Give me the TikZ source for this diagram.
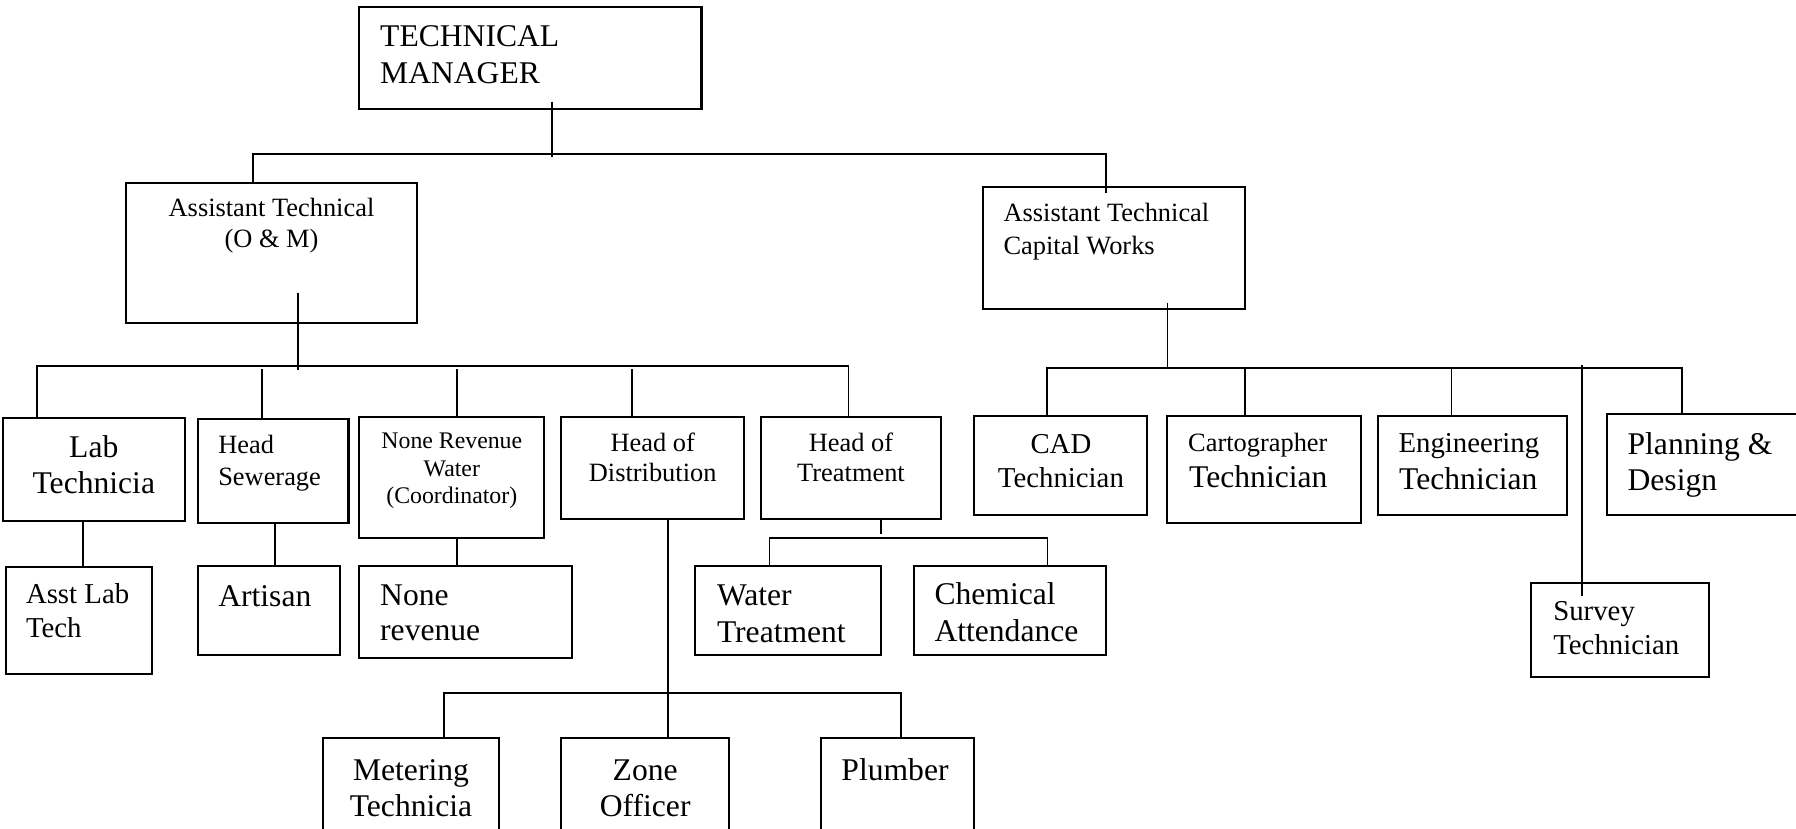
\documentclass[tikz,border=0pt]{standalone}
\usepackage{fontspec}
\setmainfont{Liberation Serif}
\usetikzlibrary{fit}
\tikzset{
  box/.style={draw, line width=2.1pt, rectangle, inner sep=0pt},
  link/.style={line width=1.8pt},
  tbig/.style={font=\fontsize{31.6}{36}\selectfont, inner sep=0pt},
  tmid/.style={font=\fontsize{28.8}{33}\selectfont, inner sep=0pt},
  tmed/.style={font=\fontsize{26.4}{30}\selectfont, inner sep=0pt},
  tsml/.style={font=\fontsize{23.8}{27}\selectfont, inner sep=0pt},
}
\begin{document}
\begin{tikzpicture}[x=1pt,y=-1pt]
\useasboundingbox (0,0) rectangle (1796,828);
\clip (0,0) rectangle (1796,828);

% ---------- boxes ----------
\node[box, fit={(358.8,6.7) (701.5,108.7)}] (tm) {};
\node[box, fit={(126.3,182.7) (416.8,322.7)}] (atom) {};
\node[box, fit={(982.9,187.3) (1245.1,308.7)}] (atcw) {};

\node[box, fit={(2.9,417.7) (184.8,521)}] (lab) {};
\node[box, fit={(198,419.3) (348.5,523)}] (sew) {};
\node[box, fit={(359.4,416.7) (544.2,537.7)}] (nrw) {};
\node[box, fit={(561.4,416.7) (744,519)}] (dist) {};
\node[box, fit={(761.2,416.7) (940.7,519.3)}] (treat) {};
\node[box, fit={(974.3,415.7) (1147.4,514.7)}] (cad) {};
\node[box, fit={(1167.4,415.7) (1360.6,522.7)}] (carto) {};
\node[box, fit={(1377.7,415.7) (1566.9,514.7)}] (eng) {};
\node[box, fit={(1607.4,414.3) (1830,514.7)}] (plan) {};

\node[box, fit={(5.7,567.3) (152.1,674)}] (alab) {};
\node[box, fit={(198,566) (339.8,655.3)}] (art) {};
\node[box, fit={(359.4,566) (571.8,658.3)}] (nrev) {};
\node[box, fit={(695.2,566) (881.2,655.3)}] (wtr) {};
\node[box, fit={(913.7,565.7) (1106.3,655.3)}] (chem) {};
\node[box, fit={(1531.4,582.7) (1709.1,677.3)}] (surv) {};

\node[box, fit={(322.6,738.3) (499.4,850)}] (met) {};
\node[box, fit={(561.4,738.3) (729,850)}] (zone) {};
\node[box, fit={(821.2,738.3) (974.3,850)}] (plumb) {};

% ---------- texts ----------
\node[tbig, anchor=base west] (tm-a) at (380,46.7) {TECHNICAL};
\node[tbig, anchor=base west] (tm-b) at (380,83.3) {MANAGER};

\node[tmed, anchor=base] (atom-a) at (271.5,216.7) {Assistant Technical};
\node[tmed, anchor=base] (atom-b) at (271.5,247.3) {(O \& M)};

\node[tmed, anchor=base west] (atcw-a) at (1003.4,221.7) {Assistant Technical};
\node[tmed, anchor=base west] (atcw-b) at (1003.4,254) {Capital Works};

\node[tbig, anchor=base] (lab-a) at (93.8,457) {Lab};
\node[tbig, anchor=base] (lab-b) at (93.8,493) {Technicia};

\node[tmed, anchor=base west] (sew-a) at (218.1,453) {Head};
\node[tmed, anchor=base west] (sew-b) at (218.1,485.3) {Sewerage};

\node[tsml, anchor=base] (nrw-a) at (451.8,448.3) {None Revenue};
\node[tsml, anchor=base] (nrw-b) at (451.8,476) {Water};
\node[tsml, anchor=base] (nrw-c) at (451.8,503.3) {(Coordinator)};

\node[tmed, anchor=base] (dist-a) at (652.7,451.7) {Head of};
\node[tmed, anchor=base] (dist-b) at (652.7,481.7) {Distribution};

\node[tmed, anchor=base] (treat-a) at (851,451.7) {Head of};
\node[tmed, anchor=base] (treat-b) at (851,481.7) {Treatment};

\node[tmid, anchor=base] (cad-a) at (1060.9,453.3) {CAD};
\node[tmid, anchor=base] (cad-b) at (1060.9,487.3) {Technician};

\node[tmed, anchor=base west] (carto-a) at (1188,451.7) {Cartographer};
\node[tbig, anchor=base west] (carto-b) at (1189,487.3) {Technician};

\node[tmid, anchor=base west] (eng-a) at (1398.3,452.7) {Engineering};
\node[tbig, anchor=base west] (eng-b) at (1399,489.3) {Technician};

\node[tbig, anchor=base west] (plan-a) at (1627.4,454.3) {Planning \&};
\node[tbig, anchor=base west] (plan-b) at (1627.4,490.7) {Design};

\node[tmid, anchor=base west] (alab-a) at (25.8,603.3) {Asst Lab};
\node[tmid, anchor=base west] (alab-b) at (25.8,637.3) {Tech};

\node[tbig, anchor=base west] (art-a) at (218.1,606.7) {Artisan};

\node[tbig, anchor=base west] (nrev-a) at (380,605) {None};
\node[tbig, anchor=base west] (nrev-b) at (380,640.7) {revenue};

\node[tbig, anchor=base west] (wtr-a) at (716.8,605) {Water};
\node[tbig, anchor=base west] (wtr-b) at (716.8,642) {Treatment};

\node[tbig, anchor=base west] (chem-a) at (934.3,604) {Chemical};
\node[tbig, anchor=base west] (chem-b) at (934.3,641.7) {Attendance};

\node[tmid, anchor=base west] (surv-a) at (1553.1,620) {Survey};
\node[tmid, anchor=base west] (surv-b) at (1553.1,654) {Technician};

\node[tbig, anchor=base] (met-a) at (411,780) {Metering};
\node[tbig, anchor=base] (met-b) at (411,816) {Technicia};

\node[tbig, anchor=base] (zone-a) at (645.2,780) {Zone};
\node[tbig, anchor=base] (zone-b) at (645.2,816) {Officer};

\node[tbig, anchor=base] (plumb-a) at (895,780) {Plumber};

% ---------- connectors ----------
% manager to the two assistants
\coordinate (tm-o) at (552.2,101.7);
\coordinate (tm-e) at (552.2,156.7);
\coordinate (b1w) at (253.2,154.3);
\coordinate (b1e) at (1106.3,154.3);
\coordinate (atom-i) at (253.2,184);
\coordinate (atcw-i) at (1106.3,192.7);
\draw[link] (tm-o) -- (tm-e);
\draw[link] (atom-i) -- (b1w) -- (b1e) -- (atcw-i);

% operations & maintenance branch
\coordinate (atom-o) at (298,292.7);
\coordinate (atom-e) at (298,370);
\coordinate (b2w) at (37.3,365.7);
\coordinate (b2e) at (848.5,365.7);
\draw[link] (atom-o) -- (atom-e);
\draw[link] (lab.north -| b2w) -- (b2w) -- (b2e) -- (treat.north -| b2e);
\coordinate (s2) at (262.3,369);
\coordinate (s3) at (457,369);
\coordinate (s4) at (632.2,369);
\draw[link] (s2) -- (sew.north -| s2);
\draw[link] (s3) -- (nrw.north -| s3);
\draw[link] (s4) -- (dist.north -| s4);

% capital works branch
\coordinate (atcw-o) at (1167.4,303.3);
\coordinate (atcw-e) at (1167.4,368);
\coordinate (b3w) at (1046.9,368);
\coordinate (b3e) at (1681.7,368);
\draw[link] (atcw-o) -- (atcw-e);
\draw[link] (cad.north -| b3w) -- (b3w) -- (b3e) -- (plan.north -| b3e);
\coordinate (c2) at (1245.1,368);
\coordinate (c3) at (1451.4,368);
\draw[link] (c2) -- (carto.north -| c2);
\draw[link] (c3) -- (eng.north -| c3);
\coordinate (sv-s) at (1581.7,365);
\coordinate (sv-e) at (1581.7,596);
\draw[link] (sv-s) -- (sv-e);

% single subordinates
\coordinate (g1) at (83.2,0);
\coordinate (g2) at (275,0);
\coordinate (g3) at (457,0);
\draw[link] (lab.south -| g1) -- (alab.north -| g1);
\draw[link] (sew.south -| g2) -- (art.north -| g2);
\draw[link] (nrw.south -| g3) -- (nrev.north -| g3);

% distribution staff
\coordinate (g4) at (667.6,0);
\coordinate (b4w) at (443.7,692.7);
\coordinate (b4e) at (901.3,692.7);
\draw[link] (dist.south -| g4) -- (zone.north -| g4);
\draw[link] (met.north -| b4w) -- (b4w) -- (b4e) -- (plumb.north -| b4e);

% treatment staff
\coordinate (tr-o) at (881.2,518.3);
\coordinate (tr-e) at (881.2,534.3);
\coordinate (b5w) at (769.5,537.7);
\coordinate (b5e) at (1047.4,537.7);
\draw[link] (tr-o) -- (tr-e);
\draw[link] (wtr.north -| b5w) -- (b5w) -- (b5e) -- (chem.north -| b5e);
\end{tikzpicture}
\end{document}
